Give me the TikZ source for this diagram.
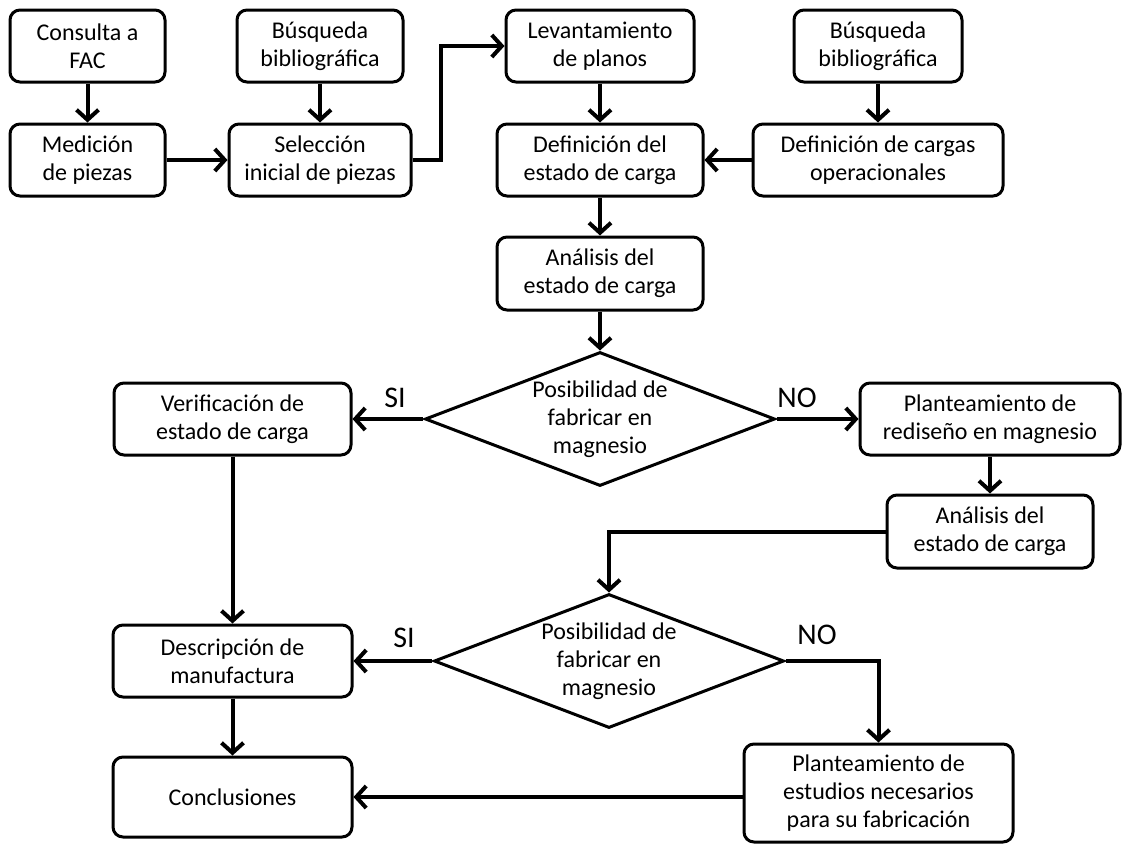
\documentclass[tikz,border=0pt]{standalone}
\usepackage{fontspec}
\setmainfont{Carlito}
\usetikzlibrary{shapes.geometric,arrows.meta}

\def\bw{3pt}

\begin{document}
\begin{tikzpicture}[x=1pt, y=-1pt,
    box/.style={draw, line width=\bw, rounded corners=10pt, align=center, inner sep=0pt,
      minimum height=72pt, font=\fontsize{24}{28}\selectfont},
    decision/.style={draw, diamond, line width=\bw, aspect=2.6, inner sep=0pt,
      minimum width=350pt, minimum height=134pt, align=center, font=\fontsize{24}{28}\selectfont},
    flow/.style={line width=4pt, -{Straight Barb[length=10pt,width=22pt]}},
    lbl/.style={font=\fontsize{30}{34}\selectfont}]
  \useasboundingbox (0,0) rectangle (1122,844);
  % top row
  \node[box, minimum width=155pt] (consulta) at (87.5,46) {Consulta a\\FAC};
  \node[box, minimum width=166pt] (busq1) at (320,46) {Búsqueda\\bibliográfica};
  \node[box, minimum width=188pt] (levant) at (600,46) {Levantamiento\\de planos};
  \node[box, minimum width=168pt] (busq2) at (878,46) {Búsqueda\\bibliográfica};
  % second row
  \node[box, minimum width=155pt] (medicion) at (87.5,160) {Medición\\de piezas};
  \node[box, minimum width=182pt] (seleccion) at (320,160) {Selección\\inicial de piezas};
  \node[box, minimum width=206pt] (defest) at (600,160) {Definición del\\estado de carga};
  \node[box, minimum width=250pt] (defcarg) at (878,160) {Definición de cargas\\operacionales};
  \node[box, minimum width=206pt, minimum height=73pt] (analisis1) at (600,273.5) {Análisis del\\estado de carga};
  % first decision
  \node[decision] (dec1) at (600,419) {Posibilidad de\\fabricar en\\magnesio};
  \node[box, minimum width=237pt] (verif) at (232.5,419) {Verificación de\\estado de carga};
  \node[box, minimum width=260pt] (rediseno) at (990,419) {Planteamiento de\\rediseño en magnesio};
  \node[box, minimum width=206pt, minimum height=73pt] (analisis2) at (990,531.5) {Análisis del\\estado de carga};
  % second decision
  \node[decision] (dec2) at (609,661) {Posibilidad de\\fabricar en\\magnesio};
  \node[box, minimum width=239pt] (descr) at (232.5,661) {Descripción de\\manufactura};
  \node[box, minimum width=239pt, minimum height=80pt] (concl) at (232.5,797) {Conclusiones};
  \node[box, minimum width=269pt, minimum height=98pt] (estudios) at (878.5,793) {Planteamiento de\\estudios necesarios\\para su fabricación};
  % branch labels
  \node[lbl] (si1) at (395,398) {SI};
  \node[lbl] (no1) at (797,398) {NO};
  \node[lbl] (si2) at (404,638) {SI};
  \node[lbl] (no2) at (817,635) {NO};
  % connectors
  \coordinate (kink) at (441,160);
  \draw[flow] (consulta) -- (medicion);
  \draw[flow] (busq1) -- (seleccion);
  \draw[flow] (medicion) -- (seleccion);
  \draw[flow] (seleccion) -- (kink) |- (levant);
  \draw[flow] (levant) -- (defest);
  \draw[flow] (busq2) -- (defcarg);
  \draw[flow] (defcarg) -- (defest);
  \draw[flow] (defest) -- (analisis1);
  \draw[flow] (analisis1) -- (dec1);
  \draw[flow] (dec1) -- (verif);
  \draw[flow] (dec1) -- (rediseno);
  \draw[flow] (rediseno) -- (analisis2);
  \draw[flow] (analisis2) -| (dec2);
  \draw[flow] (verif) -- (descr);
  \draw[flow] (dec2) -- (descr);
  \draw[flow] (dec2) -| (estudios);
  \draw[flow] (descr) -- (concl);
  \draw[flow] (estudios.west |- concl.east) -- (concl);
\end{tikzpicture}
\end{document}
